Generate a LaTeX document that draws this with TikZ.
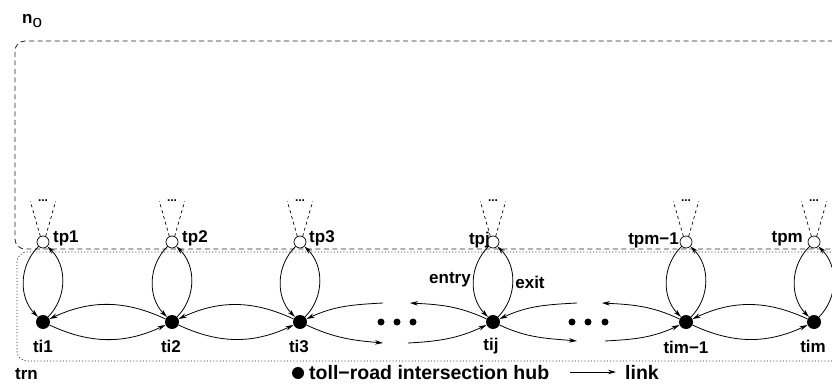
\documentclass[tikz,border=0pt]{standalone}
\usepackage{fontspec}
\setmainfont{Liberation Sans}
\usetikzlibrary{arrows.meta}
\begin{document}
\begin{tikzpicture}[x=1pt,y=1pt,
  lbl/.style={font=\fontsize{17}{19}\selectfont\bfseries, inner sep=0pt},
  leg/.style={font=\fontsize{19.5}{22}\selectfont\bfseries, inner sep=0pt},
  hub/.style={circle, fill=black, minimum size=14pt, inner sep=0pt},
  port/.style={circle, draw, line width=0.7pt, fill=white, minimum size=12pt, inner sep=0pt},
  link/.style={-{Stealth[length=8pt,width=4.5pt]}, line width=0.8pt},
  frame/.style={draw=black!85, line width=0.8pt, rounded corners=10pt},
  fan/.style={line width=0.7pt, dash pattern=on 3pt off 3pt}
]
\useasboundingbox (0,0) rectangle (832,383);

% network boundaries
\draw[frame, dash pattern=on 5pt off 3.5pt] (850,342) -- (15,342) -- (15,134) -- (850,134);
\draw[frame, dash pattern=on 1pt off 2.2pt] (850,131) -- (17,131) -- (17,22) -- (850,22);
\node[lbl, anchor=base west] (no) at (22,359) {n\raisebox{-4pt}{\mdseries o}};
\node[lbl, anchor=base west] (trn) at (15,4) {trn};

% toll-road intersection hubs and their ports
\foreach \n/\x in {1/43, 2/172, 3/300, j/493, m1/686, m/814}{
  \node[hub] (ti\n) at (\x,61) {};
  \node[port] (tp\n) at (\x,141) {};
  \draw[fan] (tp\n.115) -- ++(-10,35);
  \draw[fan] (tp\n.65) -- ++(10,35);
  \node[font=\fontsize{12}{12}\selectfont\bfseries, inner sep=0pt, anchor=base] (dots\n) at (\x,181) {...};
  \draw[link] (tp\n) to[bend right=45] (ti\n);
  \draw[link] (ti\n) to[bend right=45] (tp\n);
}

% port labels
\node[lbl, anchor=west] (ltp1) at (53,145) {tp1};
\node[lbl, anchor=west] (ltp2) at (182,145) {tp2};
\node[lbl, anchor=west] (ltp3) at (309,145) {tp3};
\node[lbl, anchor=east] (ltpj) at (490,143) {tpj};
\node[lbl, anchor=east] (ltpm1) at (679,143) {tpm\textminus1};
\node[lbl, anchor=east] (ltpm) at (803,144) {tpm};

% hub labels
\node[lbl] (lti1) at (43,37) {ti1};
\node[lbl] (lti2) at (171,37) {ti2};
\node[lbl] (lti3) at (299,37) {ti3};
\node[lbl] (ltij) at (491,37) {tij};
\node[lbl] (ltim1) at (686,36) {tim\textminus1};
\node[lbl] (ltim) at (813,37) {tim};

% links between neighbouring hubs
\draw[link] (ti2) to[bend right=25] (ti1);
\draw[link] (ti1) to[bend right=25] (ti2);
\draw[link] (ti3) to[bend right=25] (ti2);
\draw[link] (ti2) to[bend right=25] (ti3);
\draw[link] (tim) to[bend right=25] (tim1);
\draw[link] (tim1) to[bend right=25] (tim);

% elided hubs
\foreach \k/\x in {a1/381, a2/397, a3/413, b1/572, b2/588, b3/605}
  \fill (\x,61) circle (3.5pt) coordinate (gap\k);

\coordinate (c3u) at (383,80);
\coordinate (c3d) at (383,40);
\coordinate (cjlu) at (410,80);
\coordinate (cjld) at (408,40);
\coordinate (cjru) at (577,80);
\coordinate (cjrd) at (577,42);
\coordinate (cmu) at (602,80);
\coordinate (cmd) at (605,42);
\draw[link] (c3u) to[out=183,in=25] (ti3);
\draw[link] (ti3) to[out=-25,in=175] (c3d);
\draw[link] (tij) to[out=155,in=-3] (cjlu);
\draw[link] (cjld) to[out=3,in=205] (tij);
\draw[link] (cjru) to[out=183,in=25] (tij);
\draw[link] (tij) to[out=-25,in=175] (cjrd);
\draw[link] (tim1) to[out=155,in=-3] (cmu);
\draw[link] (cmd) to[out=3,in=205] (tim1);

% entry / exit
\node[lbl] (lentry) at (450,103) {entry};
\node[lbl] (lexit) at (530,101) {exit};

% legend
\node[hub, minimum size=12pt] (leghub) at (298,10) {};
\node[leg, anchor=base west] (leghubtxt) at (309,4) {toll\textminus road intersection hub};
\coordinate (legA) at (570,11);
\coordinate (legB) at (616,11);
\draw[link] (legA) -- (legB);
\node[leg, anchor=base west] (leglink) at (625,4) {link};
\end{tikzpicture}
\end{document}
